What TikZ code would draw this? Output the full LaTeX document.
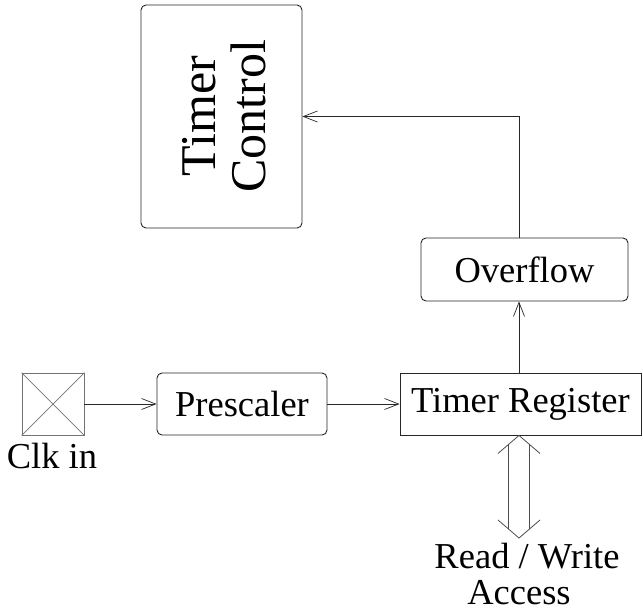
\documentclass[tikz,border=0pt]{standalone}
\usepackage{fontspec}
\setmainfont{Liberation Serif}
\usetikzlibrary{arrows.meta,calc}

\tikzset{
  block/.style={draw=black!85, line width=0.9pt, inner sep=0pt,
    font=\fontsize{36.5}{40}\selectfont},
  roundblock/.style={block, rounded corners=5pt},
  label/.style={inner sep=0pt, font=\fontsize{36.5}{40}\selectfont},
  arr/.style={draw=black!85, line width=0.9pt,
    -{Straight Barb[length=14pt,width=11pt,line width=0.7pt]}},
  busline/.style={draw=black!70, line width=0.8pt},
}

\begin{document}
\begin{tikzpicture}[x=1pt, y=-1pt]
  \useasboundingbox (0,0) rectangle (643,611);

  % clock input pad
  \node[draw=black!55, line width=0.9pt, minimum width=62pt, minimum height=62pt, inner sep=0pt]
    (clk) at (53,404) {};
  \draw[black!55, line width=0.7pt] (clk.north west) -- (clk.south east);
  \draw[black!55, line width=0.7pt] (clk.south west) -- (clk.north east);
  \node[label, anchor=base] (clklabel) at (52,468) {Clk in};

  % blocks
  \node[roundblock, minimum width=170pt, minimum height=62pt] (pre) at (242,404) {Prescaler};
  \node[block, minimum width=241pt, minimum height=62pt] (treg) at (520.5,404) {Timer Register};
  \node[roundblock, minimum width=207pt, minimum height=63pt] (ovf) at (524.5,269.5) {Overflow};
  \node[roundblock, minimum width=161pt, minimum height=223pt] (tc) at (221.5,116.5) {};
  \node[inner sep=0pt, rotate=90, align=center, font=\fontsize{50}{50}\selectfont]
    (tctext) at (224,116) {Timer\\Control};

  % signal path
  \coordinate (tap) at (519,0);
  \draw[arr] (clk.east) -- (pre.west);
  \draw[arr] (pre.east) -- (treg.west);
  \draw[arr] (tap |- treg.north) -- (tap |- ovf.south);
  \draw[arr] (tap |- ovf.north) |- (tc.east);

  % read / write bus (hollow double arrow)
  \coordinate (bt) at (tap |- treg.south);
  \coordinate (bb) at (519,538);
  \draw[busline] ($(bt)+(-21,18)$) -- (bt) -- ($(bt)+(21,18)$);
  \draw[busline] ($(bb)+(-21,-18)$) -- (bb) -- ($(bb)+(21,-18)$);
  \draw[busline] ($(bt)+(-10.5,9)$) -- ($(bb)+(-10.5,-9)$);
  \draw[busline] ($(bt)+(10.5,9)$) -- ($(bb)+(10.5,-9)$);

  \node[label, anchor=base] (rw) at (527,568) {Read / Write};
  \node[label, anchor=base] (acc) at (519,604) {Access};
\end{tikzpicture}
\end{document}
